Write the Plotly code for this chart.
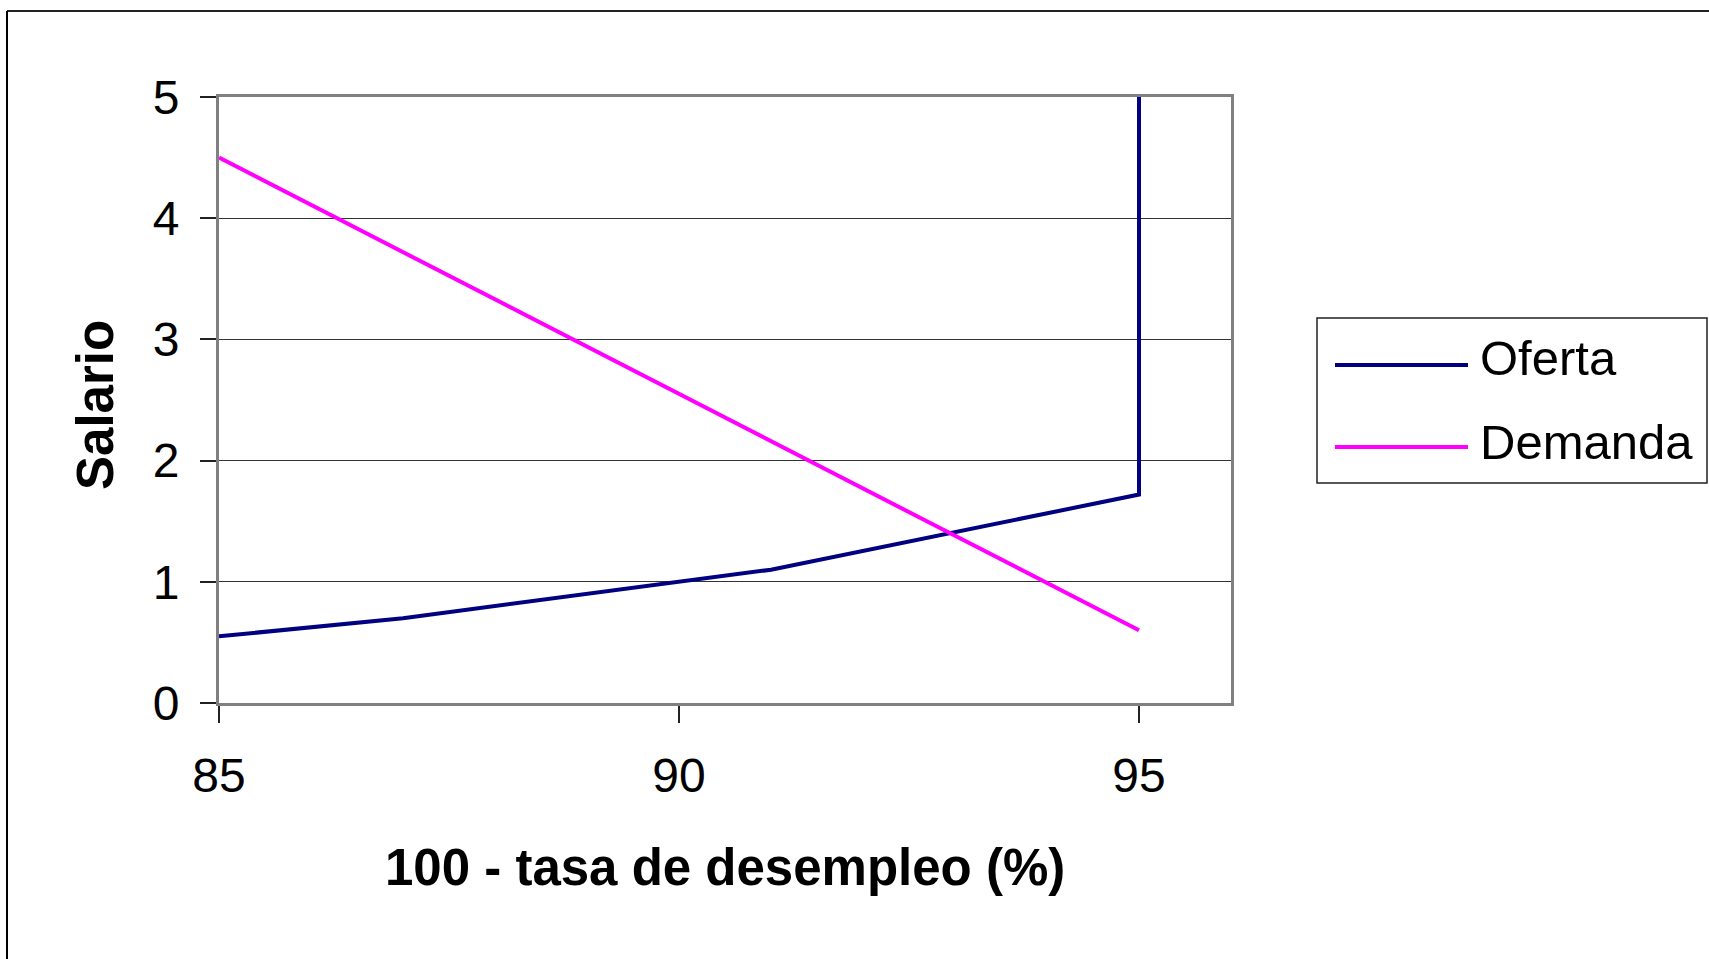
import plotly.graph_objects as go

# ---- data ----
oferta_x = [85, 87, 91, 95, 95]
oferta_y = [0.55, 0.7, 1.1, 1.72, 5]
demanda_x = [85, 95]
demanda_y = [4.5, 0.6]
series_names = ["Oferta", "Demanda"]
x_ticks = [85, 90, 95]
y_ticks = [0, 1, 2, 3, 4, 5]
x_title = "100 - tasa de desempleo (%)"
y_title = "Salario"

W, H = 1709, 959
L, R, T, B = 219, 1231, 97, 703  # plot area in pixels
FONT = "Liberation Sans, Arial, sans-serif"
colors = ["#000080", "#FF00FF"]


def px(x):
    return (x - L) / (R - L)


def py(y):
    return (B - y) / (B - T)


fig = go.Figure()
fig.add_trace(go.Scatter(x=oferta_x, y=oferta_y, mode="lines", name=series_names[0],
                         line=dict(color=colors[0], width=4), showlegend=False))
fig.add_trace(go.Scatter(x=demanda_x, y=demanda_y, mode="lines", name=series_names[1],
                         line=dict(color=colors[1], width=4), showlegend=False))

shapes = []
annotations = []

# outer chart border (top + left visible)
shapes.append(dict(type="line", xref="paper", yref="paper", x0=px(7), x1=px(W), y0=py(11), y1=py(11),
                   line=dict(color="#222", width=2)))
shapes.append(dict(type="line", xref="paper", yref="paper", x0=px(7), x1=px(7), y0=py(11), y1=py(H),
                   line=dict(color="#000", width=2)))

# legend box
shapes.append(dict(type="rect", xref="paper", yref="paper", x0=px(1317), x1=px(1707), y0=py(483), y1=py(318),
                   line=dict(color="#222", width=1.5), fillcolor="white"))
leg_line_y = [365, 447]
leg_text_y = [358, 442]
for i, name in enumerate(series_names):
    shapes.append(dict(type="line", xref="paper", yref="paper", x0=px(1335), x1=px(1468),
                       y0=py(leg_line_y[i]), y1=py(leg_line_y[i]), line=dict(color=colors[i], width=4)))
    annotations.append(dict(text=name, xref="paper", yref="paper", x=px(1478), y=py(leg_text_y[i]),
                            xanchor="left", yanchor="middle", showarrow=False,
                            font=dict(family=FONT, size=49, color="black")))

# axis titles
annotations.append(dict(text="<b>%s</b>" % x_title, xref="paper", yref="paper", x=0.5, y=py(867),
                        xanchor="center", yanchor="middle", showarrow=False,
                        font=dict(family=FONT, size=51, color="black")))
annotations.append(dict(text="<b>%s</b>" % y_title, xref="paper", yref="paper", x=px(96), y=py(405),
                        xanchor="center", yanchor="middle", textangle=-90, showarrow=False,
                        font=dict(family=FONT, size=51, color="black")))

fig.update_layout(
    width=W, height=H,
    margin=dict(l=L, r=W - R, t=T, b=H - B, autoexpand=False),
    paper_bgcolor="white", plot_bgcolor="white",
    shapes=shapes, annotations=annotations,
    showlegend=False,
    xaxis=dict(range=[85, 96], tickvals=x_ticks, ticks="outside", ticklen=17, tickwidth=1.5,
               tickcolor="#222", showline=True, linecolor="#808080", linewidth=3, mirror=True,
               showgrid=False, zeroline=False, ticklabelstandoff=11,
               tickfont=dict(family=FONT, size=48, color="black")),
    yaxis=dict(range=[0, 5], tickvals=y_ticks, ticks="outside", ticklen=16, tickwidth=1.5,
               tickcolor="#222", showline=True, linecolor="#808080", linewidth=3, mirror=True,
               showgrid=True, gridcolor="#333", gridwidth=1, zeroline=False, ticklabelstandoff=11,
               tickfont=dict(family=FONT, size=48, color="black")),
)

fig.write_html("out.html", config={"displayModeBar": False},
               post_script="document.body.style.margin='0';document.body.style.overflow='hidden';")
